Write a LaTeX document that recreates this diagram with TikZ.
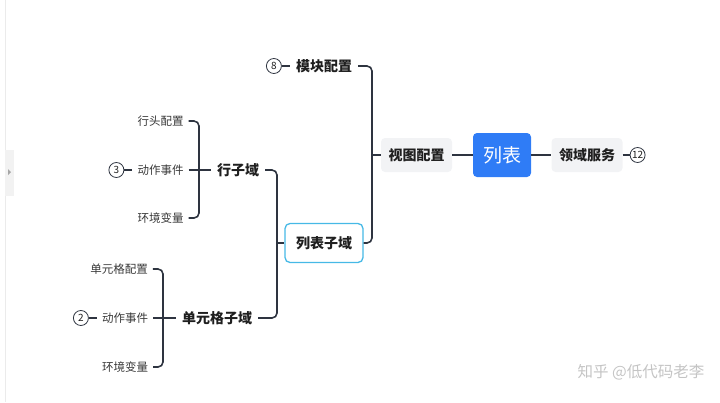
\documentclass[tikz,border=0pt]{standalone}
\usepackage{fontspec}
\setmainfont{Noto Sans CJK SC}
\usetikzlibrary{positioning}
\definecolor{rootblue}{RGB}{47,124,246}
\definecolor{softgray}{RGB}{242,243,245}
\definecolor{linedark}{RGB}{46,52,64}
\definecolor{edgecyan}{RGB}{70,185,230}
\definecolor{markgray}{RGB}{196,196,196}

\begin{document}
\begin{tikzpicture}[
    x=1pt, y=-1pt,
    every node/.style={text=black!88},
    link/.style={draw=linedark, line width=1.6pt, rounded corners=5pt},
    root/.style={fill=rootblue, rounded corners=4pt, minimum width=58pt, minimum height=44pt, text=white, font=\fontsize{19}{21}\selectfont},
    grey/.style={fill=softgray, rounded corners=4pt, minimum width=71pt, minimum height=34pt, font=\bfseries\fontsize{14}{16}\selectfont},
    sub/.style={draw=edgecyan, fill=white, line width=1.3pt, rounded corners=5pt, minimum width=78pt, minimum height=39pt, font=\bfseries\fontsize{14}{16}\selectfont},
    topic/.style={inner xsep=6pt, font=\bfseries\fontsize{14}{16}\selectfont},
    leaf/.style={inner xsep=5pt, text=black!78, font=\fontsize{11.5}{13}\selectfont},
    num/.style={circle, draw=linedark, line width=0.8pt, inner sep=0pt, minimum size=15pt, font=\fontsize{10}{11}\selectfont}
  ]
    \useasboundingbox (0,0) rectangle (720,402);
    % side tab
    \draw[black!8] (5,0) -- (5,402);
    \fill[black!5] (5,150) rectangle (14,196);
    \fill[black!35] (8,169) -- (11,172) -- (8,175) -- cycle;

    \node[root] (list) at (502,155) {列表};
    \node[grey] (view) at (416.5,155) {视图配置};
    \node[grey] (svc) at (587,155) {领域服务};
    \node[num, right=7pt of svc] (n12) {12};

    \node[topic] (mk) at (324,66) {模块配置};
    \node[num, left=8pt of mk] (n8) {8};
    \node[sub] (lbzy) at (324,243) {列表子域};

    \node[topic] (row) at (238,170) {行子域};
    \node[topic] (cell) at (217,318) {单元格子域};

    \node[leaf] (rhead) at (160.5,121) {行头配置};
    \node[leaf] (ract) at (160.5,170) {动作事件};
    \node[leaf] (renv) at (160.5,218) {环境变量};
    \node[num, left=8pt of ract] (n3) {3};

    \node[leaf] (ccfg) at (119,269) {单元格配置};
    \node[leaf] (cact) at (125,318) {动作事件};
    \node[leaf] (cenv) at (125,367) {环境变量};
    \node[num, left=8pt of cact] (n2) {2};

    \coordinate (s1) at (372,155);
    \coordinate (s2) at (277,243);
    \coordinate (s3) at (199,170);
    \coordinate (s4) at (163,318);

    \draw[link] (list) -- (view);
    \draw[link] (list) -- (svc);
    \draw[link] (svc) -- (n12);
    \draw[link] (mk) -| (s1) |- (lbzy);
    \draw[link] (s1) -- (view);
    \draw[link] (n8) -- (mk);
    \draw[link] (row) -| (s2) |- (cell);
    \draw[link] (s2) -- (lbzy);
    \draw[link] (rhead) -| (s3) |- (renv);
    \draw[link] (ract) -- (row);
    \draw[link] (n3) -- (ract);
    \draw[link] (ccfg) -| (s4) |- (cenv);
    \draw[link] (cact) -- (cell);
    \draw[link] (n2) -- (cact);

    % watermark
    \node[text=markgray, font=\fontsize{15.5}{17}\selectfont] (mark) at (641,372) {知乎 @低代码老李};
  \end{tikzpicture}
\end{document}
